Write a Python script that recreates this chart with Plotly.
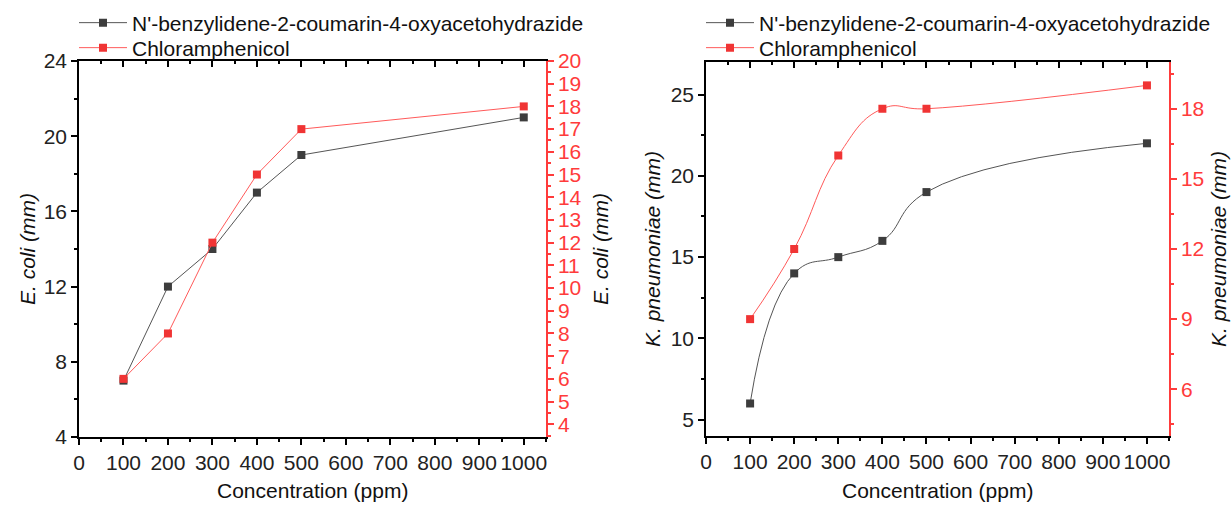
import plotly.graph_objects as go

conc = [100, 200, 300, 400, 500, 1000]
ecoli_compound = [7, 12, 14, 17, 19, 21]
ecoli_chloramphenicol = [6, 8, 12, 15, 17, 18]
kp_compound = [6, 14, 15, 16, 19, 22]
kp_chloramphenicol = [9, 12, 16, 18, 18, 19]

name_compound = "N'-benzylidene-2-coumarin-4-oxyacetohydrazide"
name_chlor = "Chloramphenicol"

BLACK_M = "#3d3d3d"
BLACK_L = "#555555"
RED_M = "#f03434"
RED_L = "#ff5a5a"
RED_AX = "#ff3b3b"
FONT = "Liberation Sans, Arial, sans-serif"
FS = 21
W, H = 1231, 505


def px_x(p):
    return p / W


def px_y(p):
    return 1 - p / H


fig = go.Figure()

# Left panel
fig.add_trace(go.Scatter(x=conc, y=ecoli_compound, mode="lines+markers", name=name_compound,
                         line=dict(color=BLACK_L, width=1), marker=dict(symbol="square", size=8, color=BLACK_M),
                         xaxis="x", yaxis="y", legend="legend"))
fig.add_trace(go.Scatter(x=conc, y=ecoli_chloramphenicol, mode="lines+markers", name=name_chlor,
                         line=dict(color=RED_L, width=1), marker=dict(symbol="square", size=8, color=RED_M),
                         xaxis="x", yaxis="y2", legend="legend2"))
# Right panel
fig.add_trace(go.Scatter(x=conc, y=kp_compound, mode="lines+markers", name=name_compound,
                         line=dict(color=BLACK_L, width=1, shape="spline", smoothing=1.3),
                         marker=dict(symbol="square", size=8, color=BLACK_M),
                         xaxis="x2", yaxis="y3", legend="legend3"))
fig.add_trace(go.Scatter(x=conc, y=kp_chloramphenicol, mode="lines+markers", name=name_chlor,
                         line=dict(color=RED_L, width=1, shape="spline", smoothing=1.3),
                         marker=dict(symbol="square", size=8, color=RED_M),
                         xaxis="x2", yaxis="y4", legend="legend4"))
# empty traces to attach the mirrored top axes
fig.add_trace(go.Scatter(x=[None], y=[None], xaxis="x3", yaxis="y", showlegend=False, hoverinfo="skip"))
fig.add_trace(go.Scatter(x=[None], y=[None], xaxis="x4", yaxis="y3", showlegend=False, hoverinfo="skip"))

dom_l = [px_x(79), px_x(546)]
dom_r = [px_x(706), px_x(1169)]
ydom_l = [px_y(437), px_y(61)]
ydom_r = [px_y(436), px_y(62)]

tickfont = dict(family=FONT, size=FS, color="#222222")
redfont = dict(family=FONT, size=FS, color=RED_AX)


def xbase(domain, anchor):
    return dict(domain=domain, anchor=anchor, range=[0, 1050], tick0=0, dtick=100,
                ticks="outside", ticklen=6, tickwidth=1.5, tickcolor="#000",
                minor=dict(dtick=50, ticks="outside", ticklen=3.5, tickwidth=1.5, tickcolor="#000"),
                showline=True, linecolor="#000", linewidth=1.5, showgrid=False, zeroline=False,
                tickfont=tickfont)


def xtop(domain, anchor, over):
    return dict(domain=domain, anchor=anchor, overlaying=over, side="top", range=[0, 1050],
                tick0=0, dtick=100, ticks="inside", ticklen=6, tickwidth=1.5, tickcolor="#000",
                minor=dict(dtick=50, ticks="inside", ticklen=3.5, tickwidth=1.5, tickcolor="#000"),
                showline=True, linecolor="#000", linewidth=1.5, showgrid=False, zeroline=False,
                showticklabels=False)


def leg(xp, yp):
    return dict(x=px_x(xp), y=px_y(yp), xanchor="left", yanchor="middle", bgcolor="rgba(0,0,0,0)",
                font=dict(family=FONT, size=FS, color="#111"), itemwidth=48, borderwidth=0)


fig.update_layout(
    width=W, height=H,
    margin=dict(l=0, r=0, t=0, b=0, autoexpand=False),
    paper_bgcolor="white", plot_bgcolor="white",
    font=dict(family=FONT, size=FS, color="#222222"),
    xaxis=xbase(dom_l, "y"),
    xaxis2=xbase(dom_r, "y3"),
    xaxis3=xtop(dom_l, "y", "x"),
    xaxis4=xtop(dom_r, "y3", "x2"),
    yaxis=dict(domain=ydom_l, anchor="x", range=[4, 24], tick0=4, dtick=4,
               ticks="outside", ticklen=6, tickwidth=1.5, tickcolor="#000",
               minor=dict(dtick=2, ticks="outside", ticklen=3.5, tickwidth=1.5, tickcolor="#000"),
               showline=True, linecolor="#000", linewidth=1.5, showgrid=False, zeroline=False,
               tickfont=tickfont),
    yaxis2=dict(anchor="x", overlaying="y", side="right", range=[3.44, 20], tick0=4, dtick=1,
                ticks="outside", ticklen=6, tickwidth=1.5, tickcolor=RED_AX,
                minor=dict(dtick=0.5, ticks="outside", ticklen=3.5, tickwidth=1.5, tickcolor=RED_AX),
                showline=True, linecolor=RED_AX, linewidth=1.5, showgrid=False, zeroline=False,
                tickfont=redfont),
    yaxis3=dict(domain=ydom_r, anchor="x2", range=[4, 27], tick0=5, dtick=5,
                ticks="outside", ticklen=6, tickwidth=1.5, tickcolor="#000",
                minor=dict(dtick=2.5, ticks="outside", ticklen=3.5, tickwidth=1.5, tickcolor="#000"),
                showline=True, linecolor="#000", linewidth=1.5, showgrid=False, zeroline=False,
                tickfont=tickfont),
    yaxis4=dict(anchor="x2", overlaying="y3", side="right", range=[4, 20], tick0=6, dtick=3,
                ticks="outside", ticklen=6, tickwidth=1.5, tickcolor=RED_AX,
                minor=dict(dtick=1.5, ticks="outside", ticklen=3.5, tickwidth=1.5, tickcolor=RED_AX),
                showline=True, linecolor=RED_AX, linewidth=1.5, showgrid=False, zeroline=False,
                tickfont=redfont),
    legend=leg(74, 23),
    legend2=leg(74, 48),
    legend3=leg(701, 23),
    legend4=leg(701, 48),
    showlegend=True,
)

title_font = dict(family=FONT, size=FS, color="#111")
annotations = [
    dict(text="Concentration (ppm)", x=px_x(312.5), y=px_y(490), xref="paper", yref="paper",
         showarrow=False, font=title_font, xanchor="center", yanchor="middle"),
    dict(text="Concentration (ppm)", x=px_x(937.5), y=px_y(490), xref="paper", yref="paper",
         showarrow=False, font=title_font, xanchor="center", yanchor="middle"),
    dict(text="<i>E. coli (mm)</i>", x=px_x(27), y=px_y(249), xref="paper", yref="paper",
         showarrow=False, font=title_font, textangle=-90, xanchor="center", yanchor="middle"),
    dict(text="<i>E. coli (mm)</i>", x=px_x(600), y=px_y(249), xref="paper", yref="paper",
         showarrow=False, font=title_font, textangle=-90, xanchor="center", yanchor="middle"),
    dict(text="<i>K. pneumoniae (mm)</i>", x=px_x(652), y=px_y(249), xref="paper", yref="paper",
         showarrow=False, font=title_font, textangle=-90, xanchor="center", yanchor="middle"),
    dict(text="<i>K. pneumoniae (mm)</i>", x=px_x(1218), y=px_y(249), xref="paper", yref="paper",
         showarrow=False, font=title_font, textangle=-90, xanchor="center", yanchor="middle"),
]
fig.update_layout(annotations=annotations)

fig.write_html("out.html")
